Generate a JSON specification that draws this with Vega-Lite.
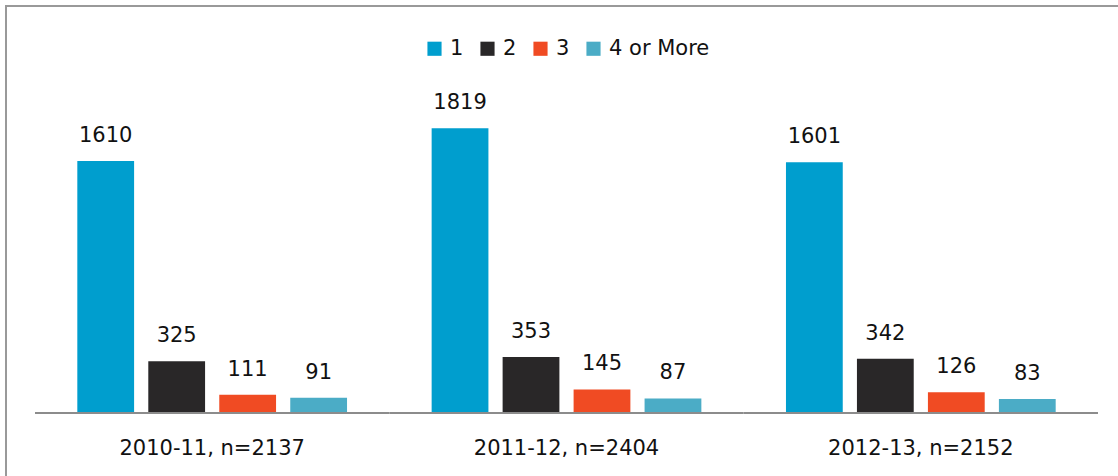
{
  "$schema": "https://vega.github.io/schema/vega-lite/v6.json",
  "autosize": "none",
  "padding": {"left": 6, "top": 6, "right": 0, "bottom": 0},
  "width": 1114,
  "height": 472,
  "background": "white",
  "config": {
    "view": {"stroke": "#999999", "strokeWidth": 2},
    "font": "DejaVu Sans",
    "legend": {
      "labelFont": "DejaVu Sans",
      "labelFontSize": 21,
      "labelColor": "#111111",
      "symbolType": "square",
      "symbolSize": 200,
      "symbolStrokeWidth": 0,
      "labelOffset": 5,
      "columnPadding": 13,
      "padding": 0
    }
  },
  "data": {
    "values": [
      {"period": "2010-11, n=2137", "series": "1", "value": 1610},
      {"period": "2010-11, n=2137", "series": "2", "value": 325},
      {"period": "2010-11, n=2137", "series": "3", "value": 111},
      {"period": "2010-11, n=2137", "series": "4 or More", "value": 91},
      {"period": "2011-12, n=2404", "series": "1", "value": 1819},
      {"period": "2011-12, n=2404", "series": "2", "value": 353},
      {"period": "2011-12, n=2404", "series": "3", "value": 145},
      {"period": "2011-12, n=2404", "series": "4 or More", "value": 87},
      {"period": "2012-13, n=2152", "series": "1", "value": 1601},
      {"period": "2012-13, n=2152", "series": "2", "value": 342},
      {"period": "2012-13, n=2152", "series": "3", "value": 126},
      {"period": "2012-13, n=2152", "series": "4 or More", "value": 83}
    ]
  },
  "encoding": {
    "x": {
      "field": "period",
      "type": "nominal",
      "sort": null,
      "axis": null,
      "scale": {"paddingInner": 0, "paddingOuter": 0.072, "align": 0.5686}
    }
  },
  "layer": [
    {
      "transform": [{"filter": "datum.series === '1'"}],
      "mark": {"type": "bar", "color": "#8c8c8c", "width": {"band": 1}},
      "encoding": {
        "y": {"datum": 0, "type": "quantitative", "scale": {"domain": [-423, 2603], "nice": false, "zero": false}, "axis": null},
        "y2": {"datum": -13}
      }
    },
    {
      "mark": {"type": "bar"},
      "encoding": {
        "xOffset": {"field": "series", "type": "nominal", "scale": {"domain": ["1", "2", "3", "4 or More"], "paddingInner": 0.2, "paddingOuter": 0.596}},
        "y": {"field": "value", "type": "quantitative", "scale": {"domain": [-423, 2603], "nice": false, "zero": false}, "axis": null},
        "color": {
          "field": "series",
          "type": "nominal",
          "scale": {"domain": ["1", "2", "3", "4 or More"], "range": ["#009ECE", "#292728", "#F04B23", "#4BACC6"]},
          "legend": {"title": null, "orient": "none", "direction": "horizontal", "legendX": 418, "legendY": 32}
        }
      }
    },
    {
      "mark": {"type": "text", "dy": -19, "baseline": "alphabetic", "fontSize": 21, "color": "#111111"},
      "encoding": {
        "xOffset": {"field": "series", "type": "nominal", "scale": {"domain": ["1", "2", "3", "4 or More"], "paddingInner": 0.2, "paddingOuter": 0.596}},
        "y": {"field": "value", "type": "quantitative"},
        "text": {"field": "value", "type": "quantitative"}
      }
    },
    {
      "transform": [{"filter": "datum.series === '1'"}],
      "mark": {"type": "text", "baseline": "alphabetic", "fontSize": 21, "color": "#111111"},
      "encoding": {
        "y": {"datum": -276},
        "text": {"field": "period", "type": "nominal"}
      }
    }
  ]
}
